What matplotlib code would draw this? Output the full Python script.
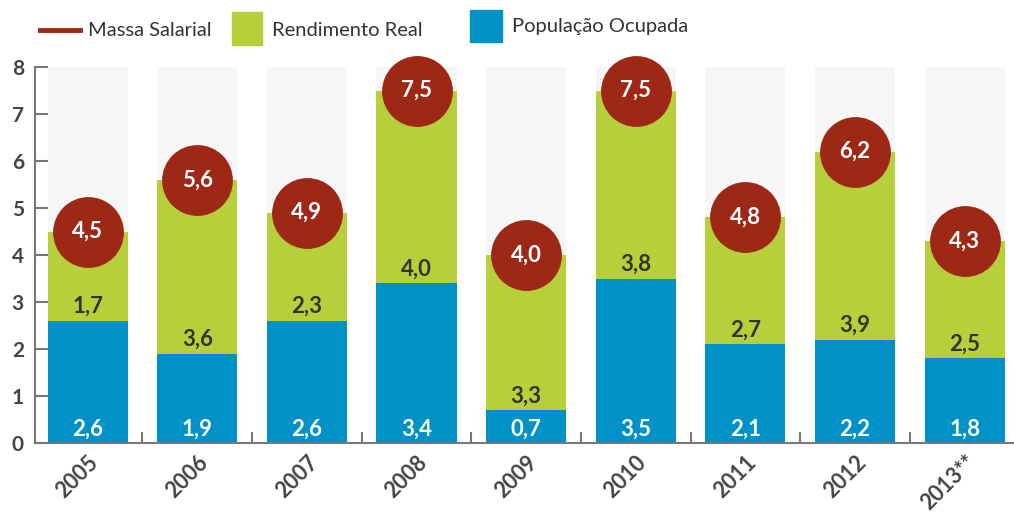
import numpy as np
import matplotlib
matplotlib.use('Agg')
from matplotlib import pyplot as plt
from matplotlib.patches import Rectangle
from matplotlib.lines import Line2D

# dados
years = ['2005', '2006', '2007', '2008', '2009', '2010', '2011', '2012', '2013**']
ocupada = [2.6, 1.9, 2.6, 3.4, 0.7, 3.5, 2.1, 2.2, 1.8]
rendimento = [1.7, 3.6, 2.3, 4.0, 3.3, 3.8, 2.7, 3.9, 2.5]
massa = [4.5, 5.6, 4.9, 7.5, 4.0, 7.5, 4.8, 6.2, 4.3]

blue = '#0091c7'
green = '#b6cf3a'
red = '#9e2816'
band = '#f6f6f6'
grey = '#444444'

plt.rcParams['font.family'] = ['Lato', 'DejaVu Sans']

fig = plt.figure(figsize=(10.14, 5.13), dpi=100)
ax = fig.add_axes([35 / 1014, 70 / 513, 1 - 35 / 1014, (443 - 67) / 513])

x = np.arange(len(years))
w = 0.73
ocupada = np.array(ocupada)
massa = np.array(massa)

# faixas de fundo
ax.bar(x, [8] * len(x), width=w, color=band, zorder=1)
ax.bar(x, ocupada, width=w, color=blue, zorder=2)
ax.bar(x, massa - ocupada, bottom=ocupada, width=w, color=green, zorder=2)

# circulos da massa salarial
ax.plot(x, massa, 'o', ms=51, color=red, mew=0, zorder=4, clip_on=False)

fmt = lambda v: f'{v:.1f}'.replace('.', ',')
for i in range(len(x)):
    ax.text(x[i], 0.3, fmt(ocupada[i]), ha='center', va='center', color='white',
            fontsize=16, fontweight='bold', zorder=5)
    ax.text(x[i], ocupada[i] + 0.3, fmt(rendimento[i]), ha='center', va='center',
            color='#333333', fontsize=16, fontweight='bold', zorder=5)
    ax.text(x[i], massa[i], fmt(massa[i]), ha='center', va='center', color='white',
            fontsize=16, fontweight='bold', zorder=6, clip_on=False)

ax.set_xlim(-0.48, 8.45)
ax.set_ylim(0, 8)
for s in ['top', 'right']:
    ax.spines[s].set_visible(False)
for s in ['left', 'bottom']:
    ax.spines[s].set_color('#777777')
    ax.spines[s].set_linewidth(1.5)

ax.set_yticks(range(9))
ax.tick_params(axis='y', direction='in', length=9, width=1.5, color='#777777',
               labelsize=15, labelcolor=grey, pad=8)
for t in ax.get_yticklabels():
    t.set_fontweight('bold')

ax.set_xticks(x)
ax.set_xticks(x[:-1] + 0.5, minor=True)
ax.tick_params(axis='x', which='major', length=0, pad=6)
ax.tick_params(axis='x', which='minor', direction='in', length=8, width=1.5, color='#777777')
ax.set_xticklabels(years, rotation=45, ha='right', va='top', rotation_mode='anchor',
                   fontsize=15.5, fontweight='bold', color=grey)

# legenda
fig.add_artist(Line2D([40 / 1014, 80 / 1014], [1 - 30 / 513] * 2, color=red, lw=3.5))
fig.text(88 / 1014, 1 - 30 / 513, 'Massa Salarial', fontsize=14.5, color='#333333', va='center')
fig.add_artist(Rectangle((232 / 1014, 1 - 45 / 513), 30 / 1014, 33 / 513, color=green))
fig.text(272 / 1014, 1 - 30 / 513, 'Rendimento Real', fontsize=14.5, color='#333333', va='center')
fig.add_artist(Rectangle((470 / 1014, 1 - 42 / 513), 32 / 1014, 32 / 513, color=blue))
fig.text(512 / 1014, 1 - 27 / 513, 'População Ocupada', fontsize=14.5, color='#333333', va='center')

fig.savefig('out.png', dpi=100)
